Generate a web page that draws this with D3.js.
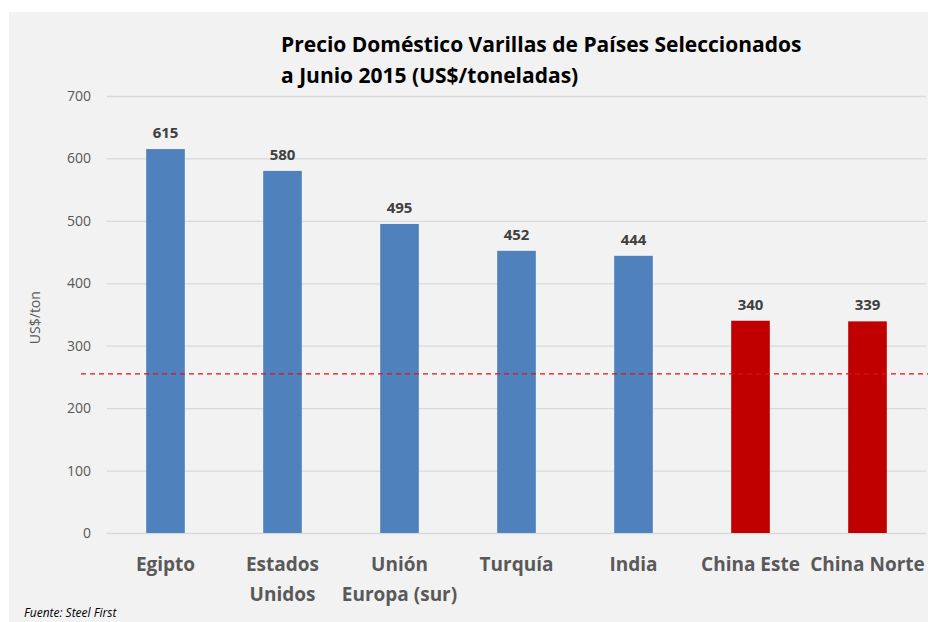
<!DOCTYPE html>
<html>
<head>
<meta charset="utf-8">
<script src="https://cdn.jsdelivr.net/npm/d3@7"></script>
<style>
  body { margin: 0; background: #fff; }
  text { font-family: "Open Sans", sans-serif; }
</style>
</head>
<body>
<script>
// Data
const categories = ["Egipto", "Estados Unidos", "Unión Europa (sur)", "Turquía", "India", "China Este", "China Norte"];
const labelLines = [["Egipto"], ["Estados", "Unidos"], ["Unión", "Europa (sur)"], ["Turquía"], ["India"], ["China Este"], ["China Norte"]];
const prices = [615, 580, 495, 452, 444, 340, 339];
const highlight = [false, false, false, false, false, true, true];
const yTicks = [0, 100, 200, 300, 400, 500, 600, 700];
const refValue = 255;

const W = 928, H = 622;
const margin = {top: 96, left: 107, bottom: 89, right: 2};

const svg = d3.select("body").append("svg")
    .attr("width", W)
    .attr("height", H);

// chart area background
svg.append("rect")
    .attr("x", 9).attr("y", 12)
    .attr("width", W - 9).attr("height", H - 12)
    .attr("fill", "#f2f2f2");

const x = d3.scaleBand()
    .domain(categories)
    .range([margin.left, W - margin.right])
    .paddingInner(0.67)
    .paddingOuter(0.335);

const y = d3.scaleLinear()
    .domain([0, 700])
    .range([H - margin.bottom, margin.top]);

// gridlines
svg.append("g")
    .selectAll("line")
    .data(yTicks)
    .join("line")
    .attr("x1", margin.left).attr("x2", W - margin.right)
    .attr("y1", d => y(d) + 0.5).attr("y2", d => y(d) + 0.5)
    .attr("stroke", "#d9d9d9")
    .attr("stroke-width", 1.3);

// y axis tick labels
const yAxis = svg.append("g")
    .attr("transform", `translate(${margin.left}, 0)`)
    .call(d3.axisLeft(y).tickValues(yTicks).tickSize(0).tickPadding(16));
yAxis.select(".domain").remove();
yAxis.selectAll("text")
    .attr("font-family", "'Open Sans', sans-serif")
    .attr("font-size", 14)
    .attr("fill", "#595959");

// y axis title
svg.append("text")
    .attr("transform", `translate(40, ${y(345)}) rotate(-90)`)
    .attr("text-anchor", "middle")
    .attr("font-size", 14)
    .attr("fill", "#595959")
    .text("US$/ton");

// bars
svg.append("g")
    .selectAll("rect")
    .data(categories)
    .join("rect")
    .attr("x", d => x(d))
    .attr("y", (d, i) => y(prices[i]))
    .attr("width", x.bandwidth())
    .attr("height", (d, i) => y(0) - y(prices[i]))
    .attr("fill", (d, i) => highlight[i] ? "#c00000" : "#4f81bd");

// value labels
svg.append("g")
    .selectAll("text")
    .data(categories)
    .join("text")
    .attr("x", d => x(d) + x.bandwidth() / 2)
    .attr("y", (d, i) => y(prices[i]) - 11)
    .attr("text-anchor", "middle")
    .attr("font-size", 15)
    .attr("font-weight", "bold")
    .attr("fill", "#404040")
    .text((d, i) => prices[i]);

// reference dashed line
svg.append("line")
    .attr("x1", 81).attr("x2", W)
    .attr("y1", y(refValue)).attr("y2", y(refValue))
    .attr("stroke", "#e0101a")
    .attr("stroke-width", 1.3)
    .attr("stroke-dasharray", "5,4");

// category labels
const cat = svg.append("g")
    .selectAll("text")
    .data(categories)
    .join("text")
    .attr("x", d => x(d) + x.bandwidth() / 2)
    .attr("y", y(0) + 38)
    .attr("text-anchor", "middle")
    .attr("font-size", 19)
    .attr("font-weight", "bold")
    .attr("fill", "#595959");
cat.selectAll("tspan")
    .data((d, i) => labelLines[i])
    .join("tspan")
    .attr("x", function() { return d3.select(this.parentNode).attr("x"); })
    .attr("dy", (d, i) => i === 0 ? 0 : 30)
    .text(d => d);

// title
const title = svg.append("text")
    .attr("x", 281)
    .attr("y", 52)
    .attr("font-size", 21)
    .attr("font-weight", "bold")
    .attr("fill", "#000");
title.append("tspan").attr("x", 281).text("Precio Doméstico Varillas de Países Seleccionados");
title.append("tspan").attr("x", 281).attr("dy", 31).text("a Junio 2015 (US$/toneladas)");

// source note
svg.append("text")
    .attr("x", 24)
    .attr("y", 617)
    .attr("font-size", 12)
    .attr("font-style", "italic")
    .attr("fill", "#000")
    .text("Fuente: Steel First");
</script>
</body>
</html>
